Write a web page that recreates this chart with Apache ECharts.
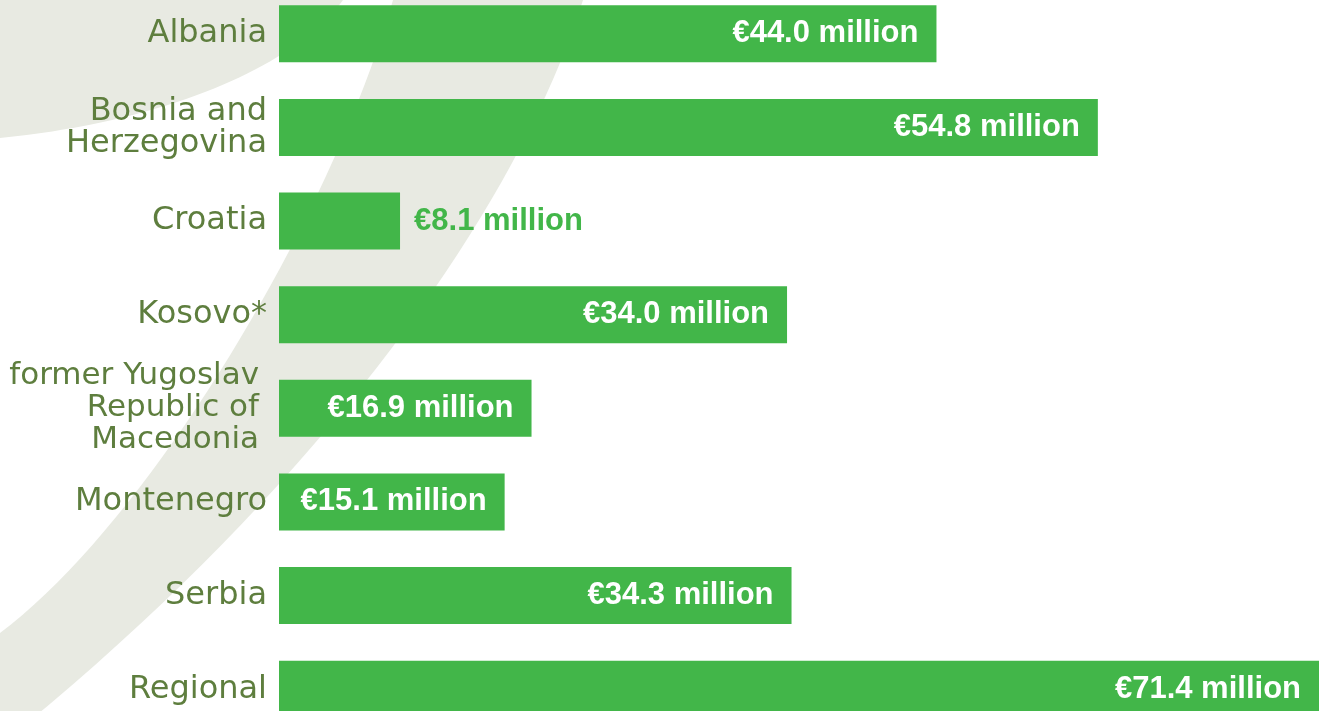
<!DOCTYPE html>
<html>
<head>
<meta charset="utf-8">
<title>Allocations by beneficiary</title>
<script src="https://cdn.jsdelivr.net/npm/echarts@6/dist/echarts.min.js"></script>
<style>
  html, body { margin: 0; padding: 0; background: #ffffff; overflow: hidden; }
  /* the original slide crops the first and last rows a little */
  #chart { position: absolute; left: 0; top: -13px; width: 1319px; height: 749px; }
</style>
</head>
<body>
<div id="chart"></div>
<script>
// categories, top to bottom
const countries = [
  'Albania',
  'Bosnia and\nHerzegovina',
  'Croatia',
  'Kosovo*',
  'former Yugoslav\nRepublic of\nMacedonia',
  'Montenegro',
  'Serbia',
  'Regional'
];
// EUR million
const amounts = [44.0, 54.8, 8.1, 34.0, 16.9, 15.1, 34.3, 71.4];

const GREEN = '#42b649';
const TEXT = '#5e7e3e';
const SHAPE = '#e8eae2';
const LABEL_FONT = "'Century Gothic', 'DejaVu Sans', sans-serif";

const chart = echarts.init(document.getElementById('chart'));

// sample a cubic curve for the decorative background shapes
function curve(p0, p1, p2, p3) {
  const pts = [];
  for (let i = 0; i <= 40; i++) {
    const t = i / 40, u = 1 - t;
    pts.push([
      u * u * u * p0[0] + 3 * u * u * t * p1[0] + 3 * u * t * t * p2[0] + t * t * t * p3[0],
      u * u * u * p0[1] + 3 * u * u * t * p1[1] + 3 * u * t * t * p2[1] + t * t * t * p3[1]
    ]);
  }
  return pts;
}

const cornerShape = [[0, -20], [343, -20]].concat(curve([343, 0], [300, 60], [180, 120], [0, 138]));
const swoosh = [[393, -20], [583, -20]]
  .concat(curve([583, 0], [520, 200], [330, 480], [0, 745]))
  .concat(curve([0, 633], [150, 520], [330, 220], [393, 0]));

// small bars get their label outside
const barData = amounts.map(function (v) {
  if (v < 10) {
    return {
      value: v,
      label: { position: 'right', distance: 14, color: GREEN }
    };
  }
  return v;
});

const option = {
  backgroundColor: '#ffffff',
  animation: false,
  graphic: [
    {
      type: 'polygon',
      z: -10,
      silent: true,
      y: 13,
      shape: { points: cornerShape },
      style: { fill: SHAPE }
    },
    {
      type: 'polygon',
      z: -10,
      silent: true,
      y: 13,
      shape: { points: swoosh },
      style: { fill: SHAPE }
    }
  ],
  grid: {
    left: 279,
    right: 0,
    top: 0,
    bottom: 0
  },
  xAxis: {
    type: 'value',
    min: 0,
    max: 69.6,
    show: false,
    splitLine: { show: false }
  },
  yAxis: {
    type: 'category',
    inverse: true,
    data: countries,
    axisLine: { show: false },
    axisTick: { show: false },
    splitLine: { show: false },
    axisLabel: {
      margin: 12,
      color: TEXT,
      fontFamily: LABEL_FONT,
      fontSize: 32,
      lineHeight: 32,
      formatter: function (name) {
        // the three line label sits a little further left
        if (name.split('\n').length > 2) {
          return '{far|' + name.split('\n').join('}\n{far|') + '}';
        }
        return name;
      },
      rich: {
        far: {
          color: TEXT,
          fontFamily: LABEL_FONT,
          fontSize: 31,
          lineHeight: 32,
          padding: [0, 8, 0, 0]
        }
      }
    }
  },
  series: [
    {
      type: 'bar',
      data: barData,
      barWidth: 57,
      clip: true,
      itemStyle: { color: GREEN },
      label: {
        show: true,
        position: 'insideRight',
        distance: 18,
        color: '#ffffff',
        fontFamily: "'Liberation Sans', Arial, sans-serif",
        fontWeight: 'bold',
        fontSize: 31,
        formatter: function (p) {
          return '€' + p.value.toFixed(1) + ' million';
        }
      }
    }
  ]
};

chart.setOption(option);
</script>
</body>
</html>
